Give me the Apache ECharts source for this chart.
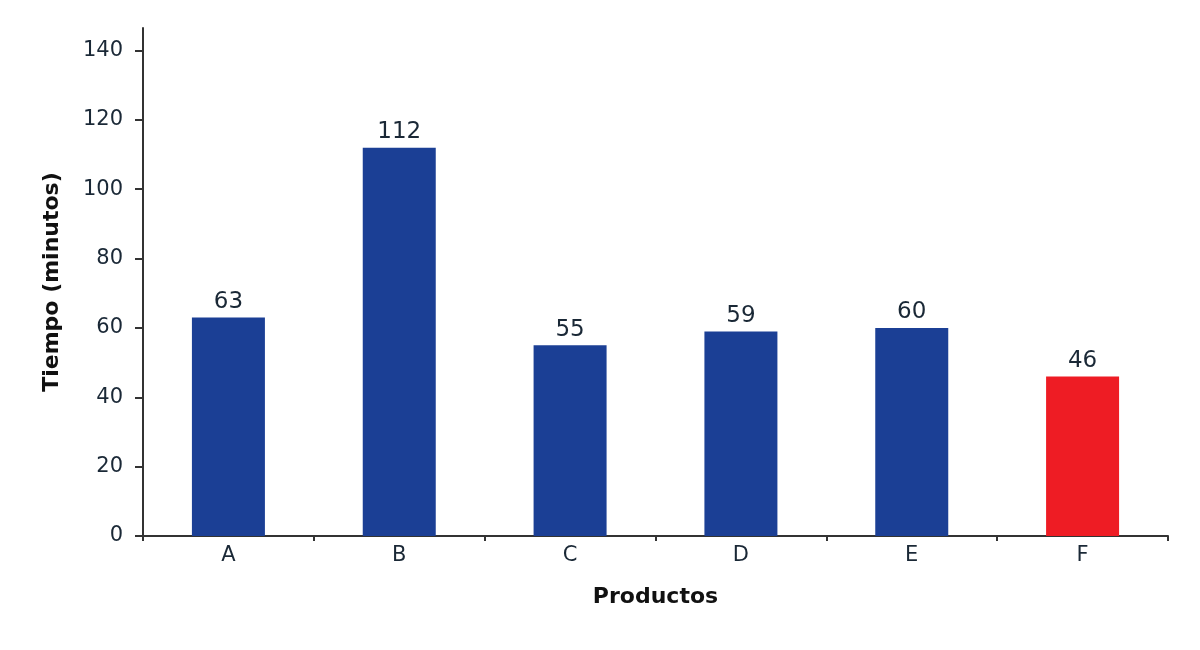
<!DOCTYPE html>
<html>
<head>
<meta charset="utf-8">
<title>Tiempo por producto</title>
<script src="https://cdn.jsdelivr.net/npm/echarts@6/dist/echarts.min.js"></script>
<style>
  html, body { margin: 0; padding: 0; background: #fff; }
  #chart { width: 1200px; height: 650px; }
</style>
</head>
<body>
<div id="chart"></div>
<script>
// datos
var productos = ['A', 'B', 'C', 'D', 'E', 'F'];
var tiempos = [63, 112, 55, 59, 60, 46];
var colores = ['#1b3f95', '#1b3f95', '#1b3f95', '#1b3f95', '#1b3f95', '#ee1c24'];
var ticksY = [0, 20, 40, 60, 80, 100, 120, 140];

var myChart = echarts.init(document.getElementById('chart'));

var option = {
    animation: false,
    grid: { left: 143, right: 32, top: 28, bottom: 114 },
    xAxis: {
        type: 'category',
        data: productos,
        name: 'Productos',
        nameLocation: 'middle',
        nameGap: 50,
        nameTextStyle: { fontFamily: 'DejaVu Sans', fontWeight: 'bold', fontSize: 22, color: '#111' },
        axisLine: { lineStyle: { color: '#333', width: 2 } },
        axisTick: { show: true, length: 5, lineStyle: { color: '#333', width: 2 } },
        axisLabel: { margin: 9, fontFamily: 'DejaVu Sans', fontSize: 21, color: '#1a2836' }
    },
    yAxis: {
        type: 'value',
        min: 0,
        max: 146.5,
        name: 'Tiempo (minutos)',
        nameLocation: 'middle',
        nameGap: 80,
        nameTextStyle: { fontFamily: 'DejaVu Sans', fontWeight: 'bold', fontSize: 22, color: '#111' },
        splitLine: { show: false },
        axisLine: { show: true, lineStyle: { color: '#333', width: 2 } },
        axisTick: { show: true, length: 8, customValues: ticksY, lineStyle: { color: '#333', width: 2 } },
        axisLabel: { margin: 20, customValues: ticksY, fontFamily: 'DejaVu Sans', fontSize: 21, color: '#1a2836' }
    },
    series: [{
        type: 'bar',
        barWidth: 73,
        data: tiempos.map(function (v, i) {
            return { value: v, itemStyle: { color: colores[i] } };
        }),
        label: {
            show: true,
            position: 'top',
            distance: 4,
            fontFamily: 'DejaVu Sans',
            fontSize: 23,
            color: '#1a2836'
        }
    }]
};

myChart.setOption(option);
window.addEventListener('resize', function () {
    myChart.resize();
});
</script>
</body>
</html>
